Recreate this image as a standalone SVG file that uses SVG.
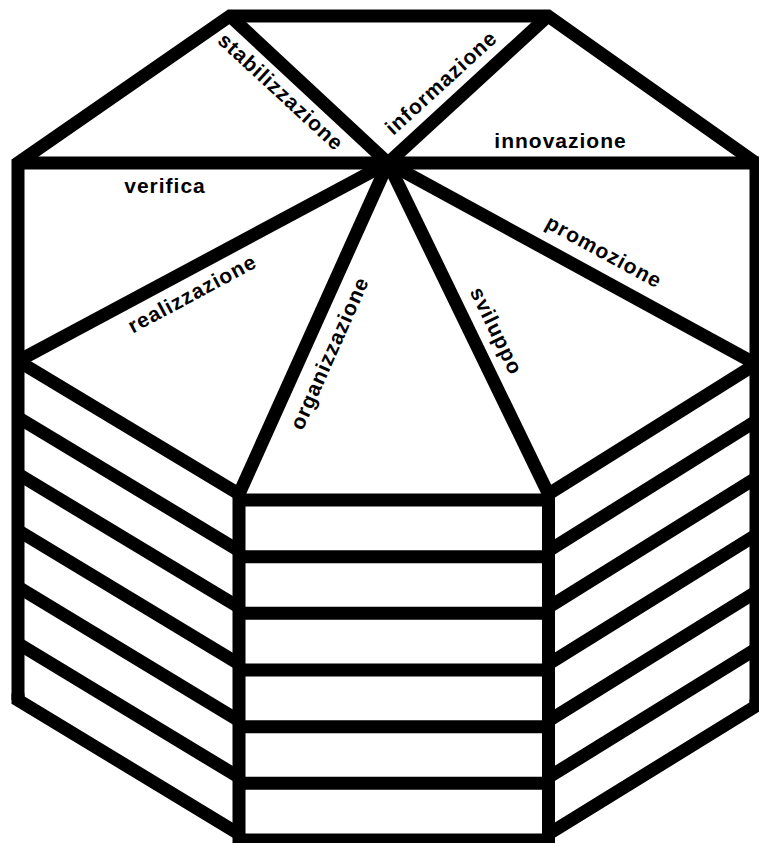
<svg xmlns="http://www.w3.org/2000/svg" width="759" height="843" viewBox="0 0 759 843">
  <style>
    .ln { fill: none; stroke: #000; stroke-width: 13; stroke-linejoin: miter; stroke-linecap: butt; }
    .lbl { font-family: "Liberation Sans", Arial, sans-serif; font-weight: bold; font-size: 21px; fill: #000; text-anchor: middle; letter-spacing: 1px; }
  </style>
  <rect x="0" y="0" width="759" height="843" fill="#fff"/>
  <g id="connectors">
    <!-- outer roof and side walls -->
    <path class="ln" d="M18,700 L18,163 L230,16 L548,16 L756,163 L756,706"/>
    <path class="ln" d="M18,163 L759,163"/>
    <!-- spokes from hub -->
    <path class="ln" d="M388,163 L230,16"/>
    <path class="ln" d="M388,163 L548,16"/>
    <path class="ln" d="M388,163 L18,361"/>
    <path class="ln" d="M388,163 L239,494"/>
    <path class="ln" d="M388,163 L548.5,494"/>
    <path class="ln" d="M388,163 L756,364"/>
    <!-- left face -->
    <path class="ln" d="M18,361 L239,494"/>
    <path class="ln" d="M18,417.5 L239,550.7"/>
    <path class="ln" d="M18,474 L239,607.3"/>
    <path class="ln" d="M18,530.5 L239,664"/>
    <path class="ln" d="M18,587 L239,720.7"/>
    <path class="ln" d="M18,643.5 L239,777.3"/>
    <path class="ln" d="M18,693.5 L18,700 L239,834"/>
    <!-- right face -->
    <path class="ln" d="M756,364 L548.5,494"/>
    <path class="ln" d="M756,421 L548.5,550.7"/>
    <path class="ln" d="M756,478 L548.5,607.3"/>
    <path class="ln" d="M756,535 L548.5,664"/>
    <path class="ln" d="M756,592 L548.5,720.7"/>
    <path class="ln" d="M756,649 L548.5,777.3"/>
    <path class="ln" d="M756,699.5 L756,706 L548.5,834"/>
    <!-- front face -->
    <path class="ln" d="M239,494 L239,850"/>
    <path class="ln" d="M548.5,494 L548.5,850"/>
    <path class="ln" d="M239,500 L548.5,500"/>
    <path class="ln" d="M239,556.7 L548.5,556.7"/>
    <path class="ln" d="M239,613.3 L548.5,613.3"/>
    <path class="ln" d="M239,670 L548.5,670"/>
    <path class="ln" d="M239,726.7 L548.5,726.7"/>
    <path class="ln" d="M239,783.3 L548.5,783.3"/>
    <path class="ln" d="M239,840 L548.5,840"/>
  </g>
  <g id="stabilizzazione"><text class="lbl" transform="translate(276,97) rotate(42.7)">stabilizzazione</text></g>
  <g id="informazione"><text class="lbl" transform="translate(446,88) rotate(-42.4)">informazione</text></g>
  <g id="innovazione"><text class="lbl" x="560.5" y="148">innovazione</text></g>
  <g id="verifica"><text class="lbl" x="165" y="193">verifica</text></g>
  <g id="realizzazione"><text class="lbl" transform="translate(195.5,300) rotate(-28.2)">realizzazione</text></g>
  <g id="organizzazione"><text class="lbl" transform="translate(336,356) rotate(-66)">organizzazione</text></g>
  <g id="sviluppo"><text class="lbl" transform="translate(490,334) rotate(64.3)">sviluppo</text></g>
  <g id="promozione"><text class="lbl" transform="translate(600.6,258) rotate(28.6)">promozione</text></g>
</svg>
